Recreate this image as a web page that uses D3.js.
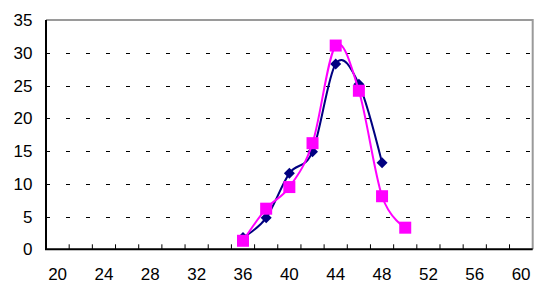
<!DOCTYPE html>
<html>
<head>
<meta charset="utf-8">
<script src="https://cdn.jsdelivr.net/npm/d3@7"></script>
<style>
  html, body { margin: 0; padding: 0; background: #fff; }
  svg { display: block; }
</style>
</head>
<body>
<div id="chart"></div>
<script>
// Values
const xTickLabels = [20, 24, 28, 32, 36, 40, 44, 48, 52, 56, 60];
const yTickValues = [0, 5, 10, 15, 20, 25, 30, 35];

const blueX = [36, 38, 40, 42, 44, 46, 48];
const blueY = [1.8, 4.8, 11.6, 14.9, 28.3, 25.2, 13.2];

const pinkX = [36, 38, 40, 42, 44, 46, 48, 50];
const pinkY = [1.3, 6.2, 9.5, 16.2, 31.1, 24.2, 8.1, 3.3];

function renderChart(containerId) {
    const width = 535;
    const height = 283;
    const margin = { top: 20, right: 2.3, bottom: 33.7, left: 46 };

    const svg = d3.select("#" + containerId)
        .append("svg")
        .attr("width", width)
        .attr("height", height)
        .style("font-family", "'Liberation Sans', Arial, sans-serif");

    const x = d3.scaleLinear()
        .domain([19, 61])
        .range([margin.left, width - margin.right]);

    const y = d3.scaleLinear()
        .domain([0, 35])
        .range([height - margin.bottom, margin.top]);

    // -- Gridlines (dashed) --
    svg.append("g")
        .selectAll("line")
        .data(yTickValues.filter(v => v > 0 && v < 35))
        .join("line")
        .attr("x1", x(19))
        .attr("x2", x(61))
        .attr("y1", d => Math.round(y(d)) + 0.5)
        .attr("y2", d => Math.round(y(d)) + 0.5)
        .attr("stroke", "#000")
        .attr("stroke-width", 1)
        .attr("stroke-dasharray", "4,16");

    // -- Plot frame: grey top/right, black left/bottom --
    svg.append("path")
        .attr("d", `M${x(19)},${y(35)}H${x(61)}V${y(0)}`)
        .attr("fill", "none")
        .attr("stroke", "#9a9a9a")
        .attr("stroke-width", 2);

    svg.append("path")
        .attr("d", `M${x(19)},${y(35)}V${y(0)}H${x(61)}`)
        .attr("fill", "none")
        .attr("stroke", "#000")
        .attr("stroke-width", 2);

    // -- X ticks (inside, on odd values) --
    svg.append("g")
        .selectAll("line")
        .data(d3.range(21, 61, 2))
        .join("line")
        .attr("x1", d => x(d))
        .attr("x2", d => x(d))
        .attr("y1", y(0))
        .attr("y2", y(0) - 5)
        .attr("stroke", "#000")
        .attr("stroke-width", 1);

    // -- Axis labels --
    svg.append("g")
        .selectAll("text")
        .data(xTickLabels)
        .join("text")
        .attr("x", d => x(d))
        .attr("y", 279.5)
        .attr("text-anchor", "middle")
        .style("font-size", "17px")
        .attr("fill", "#000")
        .text(d => d);

    svg.append("g")
        .selectAll("text")
        .data(yTickValues)
        .join("text")
        .attr("x", 32.5)
        .attr("y", d => y(d))
        .attr("dy", "0.36em")
        .attr("text-anchor", "end")
        .style("font-size", "17px")
        .attr("fill", "#000")
        .text(d => d);

    // -- Smoothed series --
    const line = d3.line()
        .x(d => x(d[0]))
        .y(d => y(d[1]))
        .curve(d3.curveCardinal.tension(0));

    const blue = blueX.map((v, i) => [v, blueY[i]]);
    const pink = pinkX.map((v, i) => [v, pinkY[i]]);

    svg.append("path")
        .datum(blue)
        .attr("d", line)
        .attr("fill", "none")
        .attr("stroke", "#000080")
        .attr("stroke-width", 2);

    svg.append("g")
        .selectAll("path")
        .data(blue)
        .join("path")
        .attr("transform", d => `translate(${x(d[0])},${y(d[1])})`)
        .attr("d", "M0,-5.5L5.5,0L0,5.5L-5.5,0Z")
        .attr("fill", "#000080");

    svg.append("path")
        .datum(pink)
        .attr("d", line)
        .attr("fill", "none")
        .attr("stroke", "#ff00ff")
        .attr("stroke-width", 2);

    svg.append("g")
        .selectAll("rect")
        .data(pink)
        .join("rect")
        .attr("x", d => x(d[0]) - 6)
        .attr("y", d => y(d[1]) - 6)
        .attr("width", 12)
        .attr("height", 12)
        .attr("fill", "#ff00ff");
}

renderChart("chart");
</script>
</body>
</html>
